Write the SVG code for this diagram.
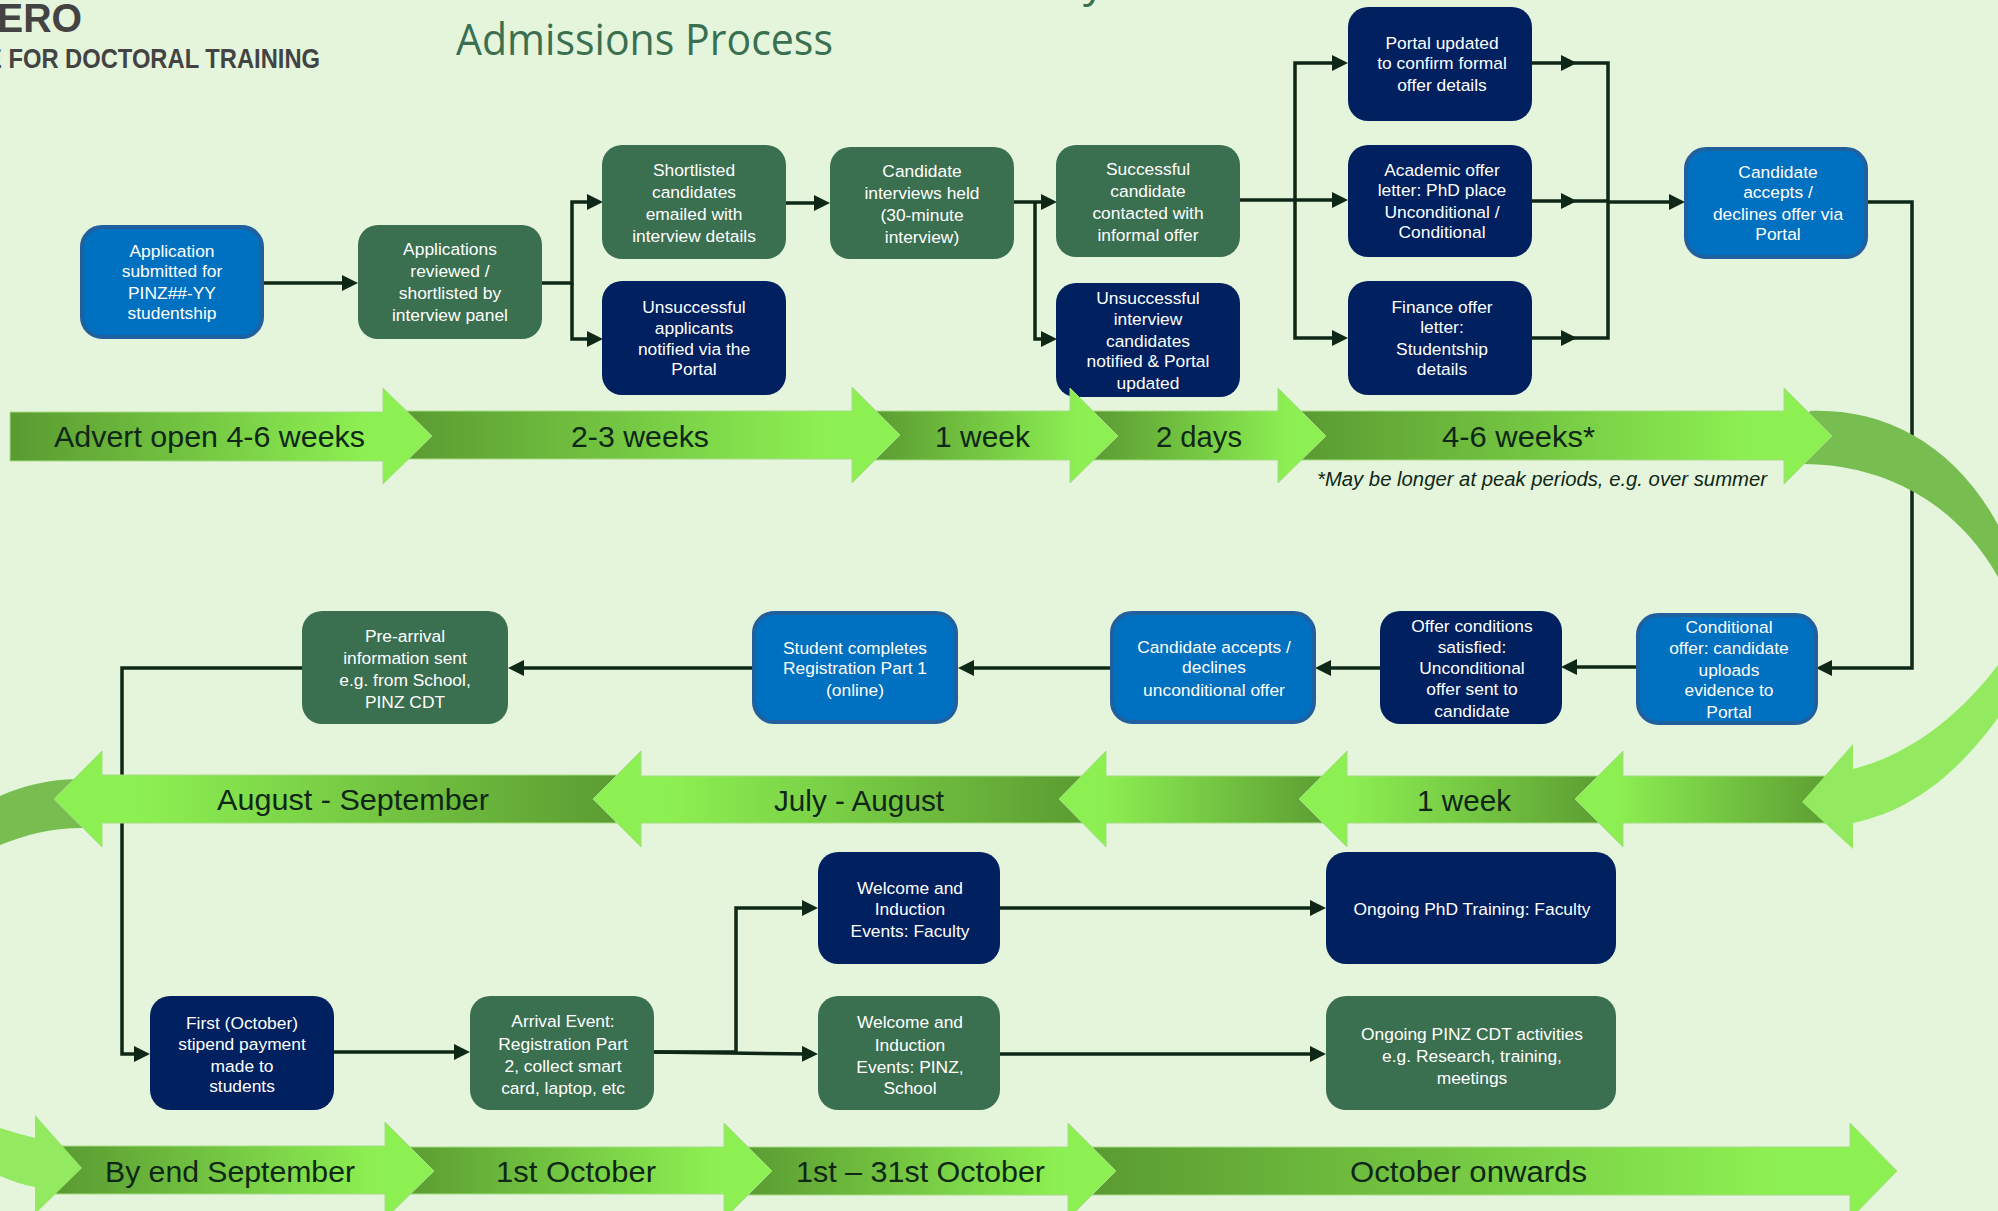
<svg xmlns="http://www.w3.org/2000/svg" width="1998" height="1211" viewBox="0 0 1998 1211">
<style>
.nb{fill:#0070c0;stroke:#20609f;stroke-width:4}
.nn{fill:#002060}
.ng{fill:#3a6f50}
.t{font-family:"Liberation Sans",Arial,sans-serif;font-size:17.4px;fill:#fff;text-anchor:middle}
.c{fill:none;stroke:#0e2716;stroke-width:3.5}
.a{stroke:#a6dc86;stroke-width:1}
.l{font-family:"Liberation Sans",Arial,sans-serif;font-size:30px;fill:#0e2716;text-anchor:start}
.ar{fill:url(#gr)}
.al{fill:url(#gl)}
.logo{font-family:"Liberation Sans",Arial,sans-serif;fill:#434343;font-weight:700}
</style>
<defs>
<linearGradient id="gr" x1="0" x2="1" y1="0" y2="0"><stop offset="0" stop-color="#5a9a31"/><stop offset="0.85" stop-color="#8df052"/></linearGradient>
<linearGradient id="gl" x1="1" x2="0" y1="0" y2="0"><stop offset="0" stop-color="#5a9a31"/><stop offset="0.85" stop-color="#8df052"/></linearGradient>
<marker id="h" markerUnits="userSpaceOnUse" markerWidth="16" markerHeight="16" viewBox="0 0 16 16" refX="8" refY="8" orient="auto"><path d="M0,0L16,8L0,16z" fill="#0e2716"/></marker>
</defs>
<rect width="1998" height="1211" fill="#e5f5dc"/>

<g id="logo">
<text class="logo" x="-3" y="32" font-size="41" textLength="85" lengthAdjust="spacingAndGlyphs">ERO</text>
<text class="logo" x="-14" y="68" font-size="28" textLength="334" lengthAdjust="spacingAndGlyphs">E FOR DOCTORAL TRAINING</text>
</g>
<g id="title">
<text x="456" y="55" font-family="'Open Sans',Arial,sans-serif" font-size="44" fill="#3a7050" textLength="377" lengthAdjust="spacingAndGlyphs">Admissions Process</text>
<text x="1083" y="-4" font-family="'Open Sans',Arial,sans-serif" font-size="44" fill="#3a7050">y</text>
</g>

<g id="connectors">
<path class="c" marker-end="url(#h)" d="M263,283H350"/>
<path class="c" marker-end="url(#h)" d="M542,283H572V202H595"/>
<path class="c" marker-end="url(#h)" d="M572,283V339H595"/>
<path class="c" marker-end="url(#h)" d="M785,203H822"/>
<path class="c" marker-end="url(#h)" d="M1013,202H1049"/>
<path class="c" marker-end="url(#h)" d="M1035,202V339H1049"/>
<path class="c" marker-end="url(#h)" d="M1240,200H1340"/>
<path class="c" marker-end="url(#h)" d="M1295,200V63H1340"/>
<path class="c" marker-end="url(#h)" d="M1295,200V338H1340"/>
<path class="c" marker-end="url(#h)" d="M1531,63H1569"/>
<path class="c" marker-end="url(#h)" d="M1531,201H1569"/>
<path class="c" marker-end="url(#h)" d="M1531,338H1569"/>
<path class="c" d="M1569,63H1608V338H1569M1569,201H1608"/>
<path class="c" marker-end="url(#h)" d="M1608,202H1677"/>
<path class="c" marker-end="url(#h)" d="M1868,202H1912V668H1824"/>
<path class="c" marker-end="url(#h)" d="M1636,667H1569"/>
<path class="c" marker-end="url(#h)" d="M1381,668H1323"/>
<path class="c" marker-end="url(#h)" d="M1111,668H966"/>
<path class="c" marker-end="url(#h)" d="M753,668H516"/>
<path class="c" marker-end="url(#h)" d="M302,668H122V1054H142"/>
<path class="c" marker-end="url(#h)" d="M334,1052H462"/>
<path class="c" marker-end="url(#h)" d="M653,1052H736V908H810"/>
<path class="c" marker-end="url(#h)" d="M653,1052L810,1054"/>
<path class="c" marker-end="url(#h)" d="M1000,908H1318"/>
<path class="c" marker-end="url(#h)" d="M1000,1054H1318"/>
</g>

<g id="n-application"><rect class="nb" x="82" y="227" width="180" height="110" rx="20"/>
<text class="t" x="172" y="257">Application</text><text class="t" x="172" y="277">submitted for</text><text class="t" x="172" y="299">PINZ##-YY</text><text class="t" x="172" y="319">studentship</text></g>
<g id="n-reviewed"><rect class="ng" x="358" y="225" width="184" height="114" rx="20"/>
<text class="t" x="450" y="255">Applications</text><text class="t" x="450" y="277">reviewed /</text><text class="t" x="450" y="299">shortlisted by</text><text class="t" x="450" y="321">interview panel</text></g>
<g id="n-shortlisted"><rect class="ng" x="602" y="145" width="184" height="114" rx="20"/>
<text class="t" x="694" y="176">Shortlisted</text><text class="t" x="694" y="198">candidates</text><text class="t" x="694" y="220">emailed with</text><text class="t" x="694" y="242">interview details</text></g>
<g id="n-unsuccessful"><rect class="nn" x="602" y="281" width="184" height="114" rx="20"/>
<text class="t" x="694" y="313">Unsuccessful</text><text class="t" x="694" y="334">applicants</text><text class="t" x="694" y="355">notified via the</text><text class="t" x="694" y="375">Portal</text></g>
<g id="n-interviews"><rect class="ng" x="830" y="147" width="184" height="112" rx="20"/>
<text class="t" x="922" y="177">Candidate</text><text class="t" x="922" y="199">interviews held</text><text class="t" x="922" y="221">(30-minute</text><text class="t" x="922" y="243">interview)</text></g>
<g id="n-successful"><rect class="ng" x="1056" y="145" width="184" height="112" rx="20"/>
<text class="t" x="1148" y="175">Successful</text><text class="t" x="1148" y="197">candidate</text><text class="t" x="1148" y="219">contacted with</text><text class="t" x="1148" y="241">informal offer</text></g>
<g id="n-unsuccessful-interview"><rect class="nn" x="1056" y="283" width="184" height="114" rx="20"/>
<text class="t" x="1148" y="304">Unsuccessful</text><text class="t" x="1148" y="325">interview</text><text class="t" x="1148" y="347">candidates</text><text class="t" x="1148" y="367">notified &amp; Portal</text><text class="t" x="1148" y="389">updated</text></g>
<g id="n-portal"><rect class="nn" x="1348" y="7" width="184" height="114" rx="20"/>
<text class="t" x="1442" y="49">Portal updated</text><text class="t" x="1442" y="69">to confirm formal</text><text class="t" x="1442" y="91">offer details</text></g>
<g id="n-academic"><rect class="nn" x="1348" y="145" width="184" height="112" rx="20"/>
<text class="t" x="1442" y="176">Academic offer</text><text class="t" x="1442" y="196">letter: PhD place</text><text class="t" x="1442" y="218">Unconditional /</text><text class="t" x="1442" y="238">Conditional</text></g>
<g id="n-finance"><rect class="nn" x="1348" y="281" width="184" height="114" rx="20"/>
<text class="t" x="1442" y="313">Finance offer</text><text class="t" x="1442" y="333">letter:</text><text class="t" x="1442" y="355">Studentship</text><text class="t" x="1442" y="375">details</text></g>
<g id="n-accepts"><rect class="nb" x="1686" y="149" width="180" height="108" rx="20"/>
<text class="t" x="1778" y="178">Candidate</text><text class="t" x="1778" y="198">accepts /</text><text class="t" x="1778" y="220">declines offer via</text><text class="t" x="1778" y="240">Portal</text></g>
<g id="n-conditional"><rect class="nb" x="1638" y="615" width="178" height="108" rx="20"/>
<text class="t" x="1729" y="633">Conditional</text><text class="t" x="1729" y="654">offer: candidate</text><text class="t" x="1729" y="676">uploads</text><text class="t" x="1729" y="696">evidence to</text><text class="t" x="1729" y="718">Portal</text></g>
<g id="n-conditions"><rect class="nn" x="1380" y="611" width="182" height="113" rx="20"/>
<text class="t" x="1472" y="632">Offer conditions</text><text class="t" x="1472" y="653">satisfied:</text><text class="t" x="1472" y="674">Unconditional</text><text class="t" x="1472" y="695">offer sent to</text><text class="t" x="1472" y="717">candidate</text></g>
<g id="n-unconditional"><rect class="nb" x="1112" y="613" width="202" height="109" rx="20"/>
<text class="t" x="1214" y="653">Candidate accepts /</text><text class="t" x="1214" y="673">declines</text><text class="t" x="1214" y="696">unconditional offer</text></g>
<g id="n-registration"><rect class="nb" x="754" y="613" width="202" height="109" rx="20"/>
<text class="t" x="855" y="654">Student completes</text><text class="t" x="855" y="674">Registration Part 1</text><text class="t" x="855" y="696">(online)</text></g>
<g id="n-prearrival"><rect class="ng" x="302" y="611" width="206" height="113" rx="20"/>
<text class="t" x="405" y="642">Pre-arrival</text><text class="t" x="405" y="664">information sent</text><text class="t" x="405" y="686">e.g. from School,</text><text class="t" x="405" y="708">PINZ CDT</text></g>
<g id="n-first"><rect class="nn" x="150" y="996" width="184" height="114" rx="20"/>
<text class="t" x="242" y="1029">First (October)</text><text class="t" x="242" y="1050">stipend payment</text><text class="t" x="242" y="1072">made to</text><text class="t" x="242" y="1092">students</text></g>
<g id="n-arrival"><rect class="ng" x="470" y="996" width="184" height="114" rx="20"/>
<text class="t" x="563" y="1027">Arrival Event:</text><text class="t" x="563" y="1050">Registration Part</text><text class="t" x="563" y="1072">2, collect smart</text><text class="t" x="563" y="1094">card, laptop, etc</text></g>
<g id="n-welcome-faculty"><rect class="nn" x="818" y="852" width="182" height="112" rx="20"/>
<text class="t" x="910" y="894">Welcome and</text><text class="t" x="910" y="915">Induction</text><text class="t" x="910" y="937">Events: Faculty</text></g>
<g id="n-welcome-pinz"><rect class="ng" x="818" y="996" width="182" height="114" rx="20"/>
<text class="t" x="910" y="1028">Welcome and</text><text class="t" x="910" y="1051">Induction</text><text class="t" x="910" y="1073">Events: PINZ,</text><text class="t" x="910" y="1094">School</text></g>
<g id="n-ongoing-phd"><rect class="nn" x="1326" y="852" width="290" height="112" rx="20"/>
<text class="t" x="1472" y="915">Ongoing PhD Training: Faculty</text></g>
<g id="n-ongoing-pinz"><rect class="ng" x="1326" y="996" width="290" height="114" rx="20"/>
<text class="t" x="1472" y="1040">Ongoing PINZ CDT activities</text><text class="t" x="1472" y="1062">e.g. Research, training,</text><text class="t" x="1472" y="1084">meetings</text></g>

<g id="timeline-row1">
<path fill="#77bd50" d="M1810,411C1885,408 1955,445 1998,525V577C1955,500 1880,464 1803,464L1790,440z"/>
<path class="ar a" d="M1296,411H1784V388L1832,436L1784,484V460H1296z"/>
<path class="ar a" d="M1090,411H1278V388L1326,436L1278,483V460H1090z"/>
<path class="ar a" d="M870,411H1070V388L1118,436L1070,483V460H870z"/>
<path class="ar a" d="M400,411H852V387L900,435L852,483V459H400z"/>
<path class="ar a" d="M10,412H383V388L432,436L383,484V461H10z"/>
<text class="l" x="54" y="447" textLength="311" lengthAdjust="spacingAndGlyphs">Advert open 4-6 weeks</text>
<text class="l" x="571" y="447" textLength="138" lengthAdjust="spacingAndGlyphs">2-3 weeks</text>
<text class="l" x="935" y="447" textLength="95" lengthAdjust="spacingAndGlyphs">1 week</text>
<text class="l" x="1156" y="447" textLength="86" lengthAdjust="spacingAndGlyphs">2 days</text>
<text class="l" x="1442" y="447" textLength="153" lengthAdjust="spacingAndGlyphs">4-6 weeks*</text>
<text x="1317" y="486" font-family="'Liberation Sans',Arial,sans-serif" font-size="20" font-style="italic" fill="#0e2716" textLength="450" lengthAdjust="spacingAndGlyphs">*May be longer at peak periods, e.g. over summer</text>
</g>

<g id="timeline-row2">
<path fill="#77bd50" d="M0,796C25,785 50,779 82,779L82,828C50,828 25,835 0,845z"/>
<path class="al a" d="M628,775V823H102V847L54,799L102,751V775z"/>
<path class="al a" d="M1092,776V823H641V847L593,799L641,751V776z"/>
<path class="al a" d="M1335,776V823H1106V847L1059,799L1106,751V776z"/>
<path class="al a" d="M1612,776V823H1347V847L1299,799L1347,751V776z"/>
<path class="al a" d="M1838,776V823H1623V847L1575,799L1623,751V776z"/>
<path fill="#93ea60" d="M1998,665C1960,715 1910,755 1853,769V744L1802,802L1853,849V823C1915,810 1960,770 1998,718z"/>
<text class="l" x="217" y="810" textLength="272" lengthAdjust="spacingAndGlyphs">August - September</text>
<text class="l" x="774" y="811" textLength="170" lengthAdjust="spacingAndGlyphs">July - August</text>
<text class="l" x="1417" y="811" textLength="94" lengthAdjust="spacingAndGlyphs">1 week</text>
</g>

<g id="timeline-row4">
<path class="ar a" d="M1084,1147H1850V1123L1897,1171L1850,1219V1195H1084z"/>
<path class="ar a" d="M738,1147H1068V1123L1116,1171L1068,1219V1195H738z"/>
<path class="ar a" d="M398,1147H724V1123L772,1171L724,1219V1194H398z"/>
<path class="ar a" d="M55,1146H385V1122L434,1171L385,1219V1194H55z"/>
<path fill="#93ea60" d="M0,1128C12,1132 24,1135 35,1138V1115L82,1168L35,1214V1187C24,1185 12,1181 0,1176z"/>
<text class="l" x="105" y="1182" textLength="250" lengthAdjust="spacingAndGlyphs">By end September</text>
<text class="l" x="496" y="1182" textLength="160" lengthAdjust="spacingAndGlyphs">1st October</text>
<text class="l" x="796" y="1182" textLength="249" lengthAdjust="spacingAndGlyphs">1st – 31st October</text>
<text class="l" x="1350" y="1182" textLength="237" lengthAdjust="spacingAndGlyphs">October onwards</text>
</g>
</svg>
